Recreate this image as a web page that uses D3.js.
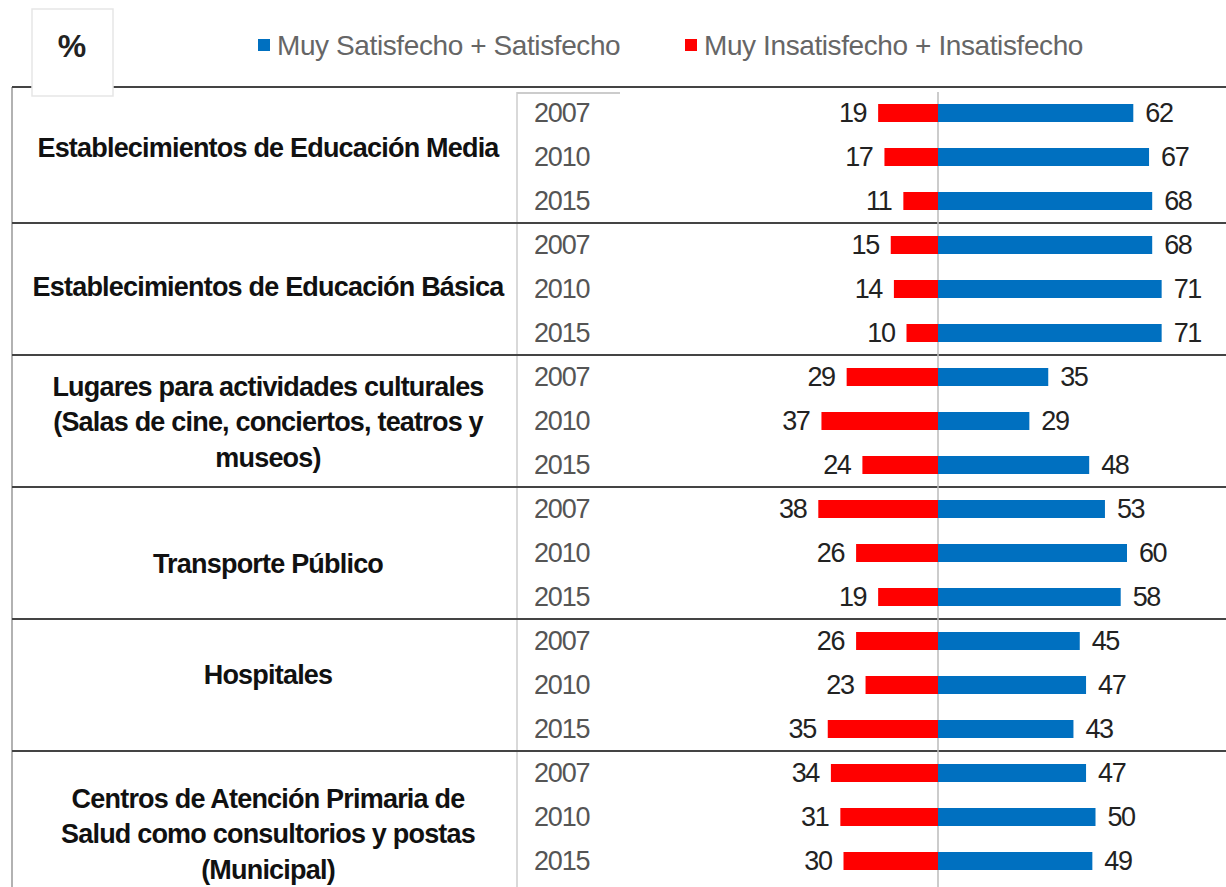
<!DOCTYPE html>
<html lang="es">
<head>
<meta charset="UTF-8">
<title>Satisfacción con servicios</title>
<script src="https://d3js.org/d3.v7.min.js"></script>
<style>
  body { margin: 0; background: #fff; }
  svg { display: block; font-family: "Liberation Sans", Arial, sans-serif; }
  .cat { font-weight: bold; font-size: 27px; fill: #111; letter-spacing: -0.8px; }
  .year { font-size: 27px; fill: #555; letter-spacing: -1.2px; }
  .val { font-size: 27px; fill: #222; letter-spacing: -1.4px; }
  .legend { font-size: 28px; fill: #666; letter-spacing: -0.4px; }
</style>
</head>
<body>
<svg width="1226" height="887"></svg>
<script>
// datos
const categories = [
  ["Establecimientos de Educación Media"],
  ["Establecimientos de Educación Básica"],
  ["Lugares para actividades culturales", "(Salas de cine, conciertos, teatros y", "museos)"],
  ["Transporte Público"],
  ["Hospitales"],
  ["Centros de Atención Primaria de", "Salud como consultorios y postas", "(Municipal)"]
];
const years = ["2007", "2010", "2015"];
const satisfied = [[62, 67, 68], [68, 71, 71], [35, 29, 48], [53, 60, 58], [45, 47, 43], [47, 50, 49]];
const dissatisfied = [[19, 17, 11], [15, 14, 10], [29, 37, 24], [38, 26, 19], [26, 23, 35], [34, 31, 30]];
const seriesNames = ["Muy Satisfecho + Satisfecho", "Muy Insatisfecho + Insatisfecho"];

const BLUE = "#0070c0", RED = "#ff0000";
// pequeño ajuste vertical de cada etiqueta, como en el original
const labelShift = [-9, -2, 1, 11, -10, 17];

const svg = d3.select("svg");

const rows = [];
categories.forEach((c, g) => years.forEach((yr, i) => {
  rows.push({ key: g + "-" + yr, g, year: yr, sat: satisfied[g][i], dis: dissatisfied[g][i] });
}));

const x = d3.scaleLinear().domain([-40, 80]).range([812, 1190]);
const y = d3.scaleBand().domain(rows.map(d => d.key)).range([91, 883]);
const bw = y.bandwidth();
const barH = 18;
const tableTop = 87;

// lineas de la tabla
const gTable = svg.append("g");
gTable.append("line").attr("x1", 12).attr("x2", 12).attr("y1", tableTop).attr("y2", 887)
  .attr("stroke", "#999").attr("stroke-width", 1.5);
gTable.append("line").attr("x1", 517).attr("x2", 517).attr("y1", tableTop + 5).attr("y2", 887)
  .attr("stroke", "#ccc").attr("stroke-width", 1.5);
gTable.append("line").attr("x1", 517).attr("x2", 620).attr("y1", tableTop + 6).attr("y2", tableTop + 6)
  .attr("stroke", "#ccc").attr("stroke-width", 2);

const groupTops = categories.map((c, g) => y(g + "-2007"));
gTable.selectAll("line.sep").data(groupTops.slice(1)).join("line")
  .attr("class", "sep")
  .attr("x1", 12).attr("x2", 1226).attr("y1", d => d).attr("y2", d => d)
  .attr("stroke", "#444").attr("stroke-width", 2);
gTable.append("line").attr("x1", 12).attr("x2", 1226).attr("y1", tableTop).attr("y2", tableTop)
  .attr("stroke", "#444").attr("stroke-width", 2);

// pestaña %
svg.append("rect").attr("x", 32).attr("y", 9).attr("width", 81).attr("height", 87)
  .attr("fill", "#fff").attr("stroke", "#e6e6e6").attr("stroke-width", 1.5);
svg.append("text").attr("x", 72).attr("y", 57).attr("text-anchor", "middle")
  .attr("font-size", 32).attr("font-weight", "bold").attr("fill", "#222").text("%");

// leyenda
const legend = svg.append("g");
const legX = [258, 685];
seriesNames.forEach((n, i) => {
  legend.append("rect").attr("x", legX[i]).attr("y", 39).attr("width", 12).attr("height", 12)
    .attr("fill", i === 0 ? BLUE : RED);
  legend.append("text").attr("class", "legend").attr("x", legX[i] + 19).attr("y", 55).text(n);
});

// linea central
svg.append("line").attr("x1", x(0)).attr("x2", x(0)).attr("y1", tableTop + 5).attr("y2", 887)
  .attr("stroke", "#bbb").attr("stroke-width", 1.5);

// etiquetas de categoria
const lineH = 35.5;
svg.selectAll("text.cat").data(categories).join("text")
  .attr("class", "cat")
  .attr("text-anchor", "middle")
  .attr("x", 268)
  .attr("y", (d, g) => groupTops[g] + bw * 1.5 - (d.length - 1) * lineH / 2 + 9 + labelShift[g])
  .each(function(d) {
    d3.select(this).selectAll("tspan").data(d).join("tspan")
      .attr("x", 268).attr("dy", (t, i) => i === 0 ? 0 : lineH).text(t => t);
  });

// años
svg.selectAll("text.year").data(rows).join("text")
  .attr("class", "year")
  .attr("x", 534)
  .attr("y", d => y(d.key) + bw / 2 + 9)
  .text(d => d.year);

// barras
svg.selectAll("rect.sat").data(rows).join("rect")
  .attr("class", "sat")
  .attr("x", x(0)).attr("y", d => y(d.key) + (bw - barH) / 2)
  .attr("width", d => x(d.sat) - x(0)).attr("height", barH)
  .attr("fill", BLUE);
svg.selectAll("rect.dis").data(rows).join("rect")
  .attr("class", "dis")
  .attr("x", d => x(-d.dis)).attr("y", d => y(d.key) + (bw - barH) / 2)
  .attr("width", d => x(0) - x(-d.dis)).attr("height", barH)
  .attr("fill", RED);

// valores
svg.selectAll("text.vs").data(rows).join("text")
  .attr("class", "val vs")
  .attr("x", d => x(d.sat) + 12)
  .attr("y", d => y(d.key) + bw / 2 + 9)
  .text(d => d.sat);
svg.selectAll("text.vd").data(rows).join("text")
  .attr("class", "val vd")
  .attr("text-anchor", "end")
  .attr("x", d => x(-d.dis) - 12)
  .attr("y", d => y(d.key) + bw / 2 + 9)
  .text(d => d.dis);
</script>
</body>
</html>
